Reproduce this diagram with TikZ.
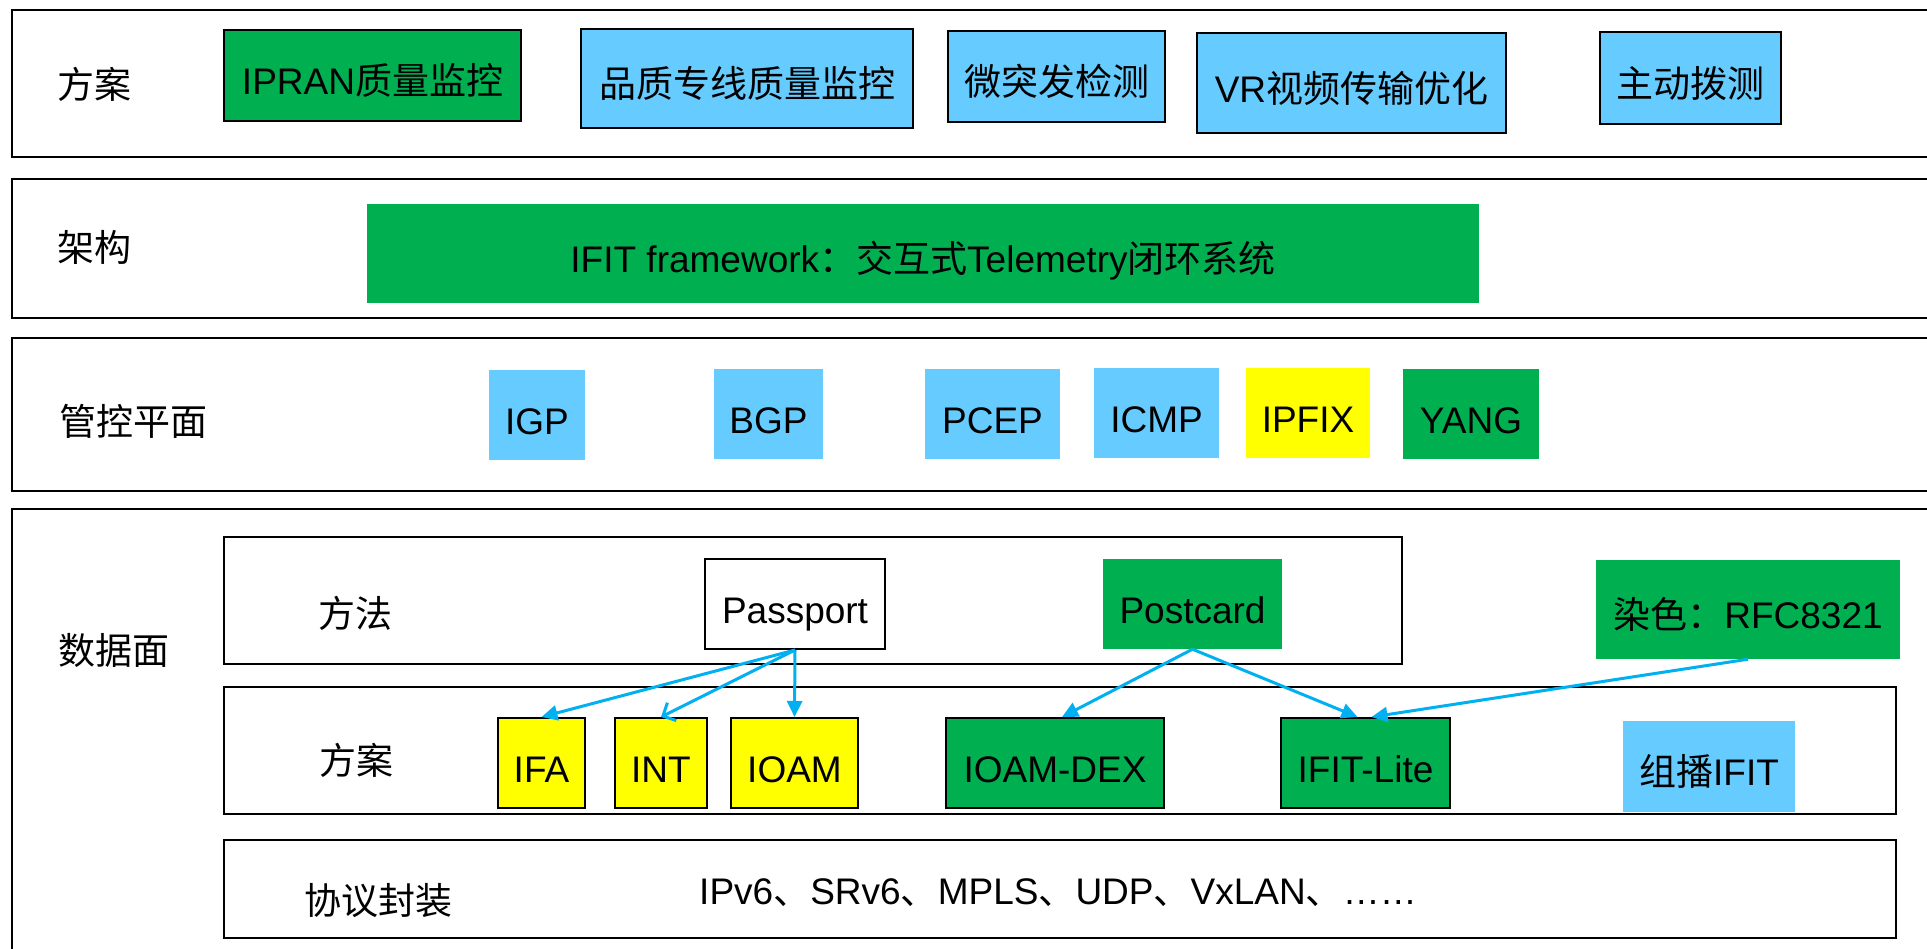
\documentclass[tikz,border=0pt]{standalone}
\usepackage{fontspec}
\setmainfont{Liberation Sans}
\newfontfamily\zhfont{Noto Sans CJK SC}
\newcommand{\zh}[1]{{\zhfont #1}}
\usetikzlibrary{arrows.meta}
\definecolor{ifitgreen}{RGB}{0,176,80}
\definecolor{skyblue}{RGB}{102,204,255}
\definecolor{arrowblue}{RGB}{0,176,240}
\definecolor{markyellow}{RGB}{255,255,0}

\begin{document}
\begin{tikzpicture}[x=1pt, y=-1pt,
    every node/.style={font=\fontsize{37}{44}\selectfont},
    layer/.style={rectangle, draw=black, line width=2pt},
    lbl/.style={inner sep=0pt},
    boxtext/.style={rectangle, inner sep=0pt, text height=38pt, text depth=0pt},
    greenbox/.style={boxtext, fill=ifitgreen},
    bluebox/.style={boxtext, fill=skyblue},
    yellowbox/.style={boxtext, fill=markyellow},
    edged/.style={draw=black, line width=2pt},
    link/.style={draw=arrowblue, line width=3pt, -{Triangle[length=16pt,width=15pt]}}]
    \useasboundingbox (0,0) rectangle (1927,948);
    \clip (0,0) rectangle (1927,948);
    % layers
    \node[layer, minimum width=1928pt, minimum height=147pt] (planrow) at (976,83.5) {};
    \node[layer, minimum width=1928pt, minimum height=139pt] (archrow) at (976,248.5) {};
    \node[layer, minimum width=1928pt, minimum height=153pt] (ctrlrow) at (976,414.5) {};
    \node[layer, minimum width=1928pt, minimum height=451pt] (datarow) at (976,734.5) {};
    \node[layer, minimum width=1178pt, minimum height=127pt] (methrow) at (813,600.5) {};
    \node[layer, minimum width=1672pt, minimum height=127pt] (schemerow) at (1060,750.5) {};
    \node[layer, minimum width=1672pt, minimum height=98pt] (encaprow) at (1060,889) {};
    % row labels
    \node[lbl] (planlbl) at (94,84) {\zh{方案}};
    \node[lbl] (archlbl) at (94,247) {\zh{架构}};
    \node[lbl] (ctrllbl) at (133,421) {\zh{管控平面}};
    \node[lbl] (datalbl) at (114,650) {\zh{数据面}};
    \node[lbl] (methlbl) at (355,613) {\zh{方法}};
    \node[lbl] (schemelbl) at (356,760) {\zh{方案}};
    \node[lbl] (encaplbl) at (378,901) {\zh{协议封装}};
    % solutions
    \node[greenbox, edged, minimum width=297pt, minimum height=91pt] (ipran) at (372.5,75.5) {IPRAN\zh{质量监控}};
    \node[bluebox, edged, minimum width=332pt, minimum height=99pt] (leasedline) at (747,78.5) {\zh{品质专线质量监控}};
    \node[bluebox, edged, minimum width=217pt, minimum height=91pt] (microburst) at (1056.5,76.5) {\zh{微突发检测}};
    \node[bluebox, edged, minimum width=309pt, minimum height=100pt] (vrvideo) at (1351.5,83) {VR\zh{视频传输优化}};
    \node[bluebox, edged, minimum width=181pt, minimum height=92pt] (activeprobe) at (1690.5,78) {\zh{主动拨测}};
    % framework
    \node[greenbox, minimum width=1112pt, minimum height=99pt] (framework) at (923,253.5) {IFIT framework\zh{：交互式}Telemetry\zh{闭环系统}};
    % control plane
    \node[bluebox, minimum width=96pt, minimum height=90pt] (igp) at (537,415) {IGP};
    \node[bluebox, minimum width=109pt, minimum height=90pt] (bgp) at (768.5,414) {BGP};
    \node[bluebox, minimum width=135pt, minimum height=90pt] (pcep) at (992.5,414) {PCEP};
    \node[bluebox, minimum width=125pt, minimum height=90pt] (icmp) at (1156.5,413) {ICMP};
    \node[yellowbox, minimum width=124pt, minimum height=90pt] (ipfix) at (1308,413) {IPFIX};
    \node[greenbox, minimum width=136pt, minimum height=90pt] (yang) at (1471,414) {YANG};
    % data plane: methods
    \node[boxtext, fill=white, edged, minimum width=180pt, minimum height=90pt] (passport) at (795,604) {Passport};
    \node[greenbox, minimum width=179pt, minimum height=90pt] (postcard) at (1192.5,604) {Postcard};
    \node[greenbox, minimum width=304pt, minimum height=99pt] (coloring) at (1748,609.5) {\zh{染色：}RFC8321};
    % data plane: schemes
    \node[yellowbox, edged, minimum width=87pt, minimum height=90pt] (ifa) at (541.5,763) {IFA};
    \node[yellowbox, edged, minimum width=92pt, minimum height=90pt] (int) at (661,763) {INT};
    \node[yellowbox, edged, minimum width=127pt, minimum height=90pt] (ioam) at (794.5,763) {IOAM};
    \node[greenbox, edged, minimum width=218pt, minimum height=90pt] (ioamdex) at (1055,763) {IOAM-DEX};
    \node[greenbox, edged, minimum width=169pt, minimum height=90pt] (ifitlite) at (1365.5,763) {IFIT-Lite};
    \node[bluebox, minimum width=172pt, minimum height=91pt] (mcastifit) at (1709,766.5) {\zh{组播}IFIT};
    % encapsulation
    \node[lbl] (encaptxt) at (1058,893) {IPv6\zh{、}SRv6\zh{、}MPLS\zh{、}UDP\zh{、}VxLAN\zh{、}……};
    % arrows
    \draw[link] (passport.south) -- (ifa.north);
    \draw[link, -{Straight Barb[length=10pt,width=20pt]}] (passport.south) -- (int.north);
    \draw[link] (passport.south) -- (ioam.north);
    \draw[link] (postcard.south) -- ([xshift=7pt]ioamdex.north);
    \draw[link] (postcard.south) -- ([xshift=-8pt]ifitlite.north);
    \draw[link] (coloring.south) -- ([xshift=6pt]ifitlite.north);
\end{tikzpicture}
\end{document}
